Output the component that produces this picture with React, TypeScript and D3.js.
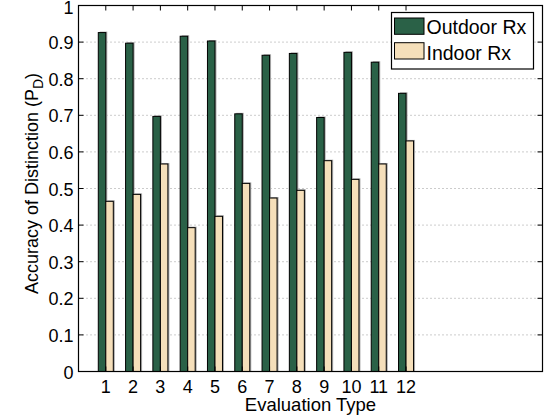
import React from "react";
import * as d3 from "d3";

const categories = [1, 2, 3, 4, 5, 6, 7, 8, 9, 10, 11, 12];
const outdoor = [0.926, 0.897, 0.697, 0.916, 0.903, 0.704, 0.864, 0.869, 0.694, 0.872, 0.845, 0.76];
const indoor = [0.465, 0.484, 0.567, 0.393, 0.424, 0.514, 0.474, 0.495, 0.576, 0.525, 0.567, 0.63];
const seriesNames = ["Outdoor Rx", "Indoor Rx"];
const yTicks = [0, 0.1, 0.2, 0.3, 0.4, 0.5, 0.6, 0.7, 0.8, 0.9, 1];

const W = 549, H = 420;
const L = 78.5, R = 542.5, T = 5.5, B = 371.5;
const colors = ["#2a6147", "#f5dfba"];
const font = "'Liberation Sans', Arial, Helvetica, sans-serif";

export default function App() {
  const x = d3.scaleLinear().domain([0, 17]).range([L, R]);
  const y = d3.scaleLinear().domain([0, 1]).range([B, T]);
  const bw = x(0.275) - x(0);
  const series = [outdoor, indoor];
  return (
    <svg width={W} height={H} style={{ position: "absolute", left: 0, top: 0, background: "#fff" }}>
      <rect x={0} y={0} width={W} height={H} fill="#fff" />
      {yTicks.filter(t => t > 0 && t < 1).map(t => (
        <line key={"g" + t} x1={L} x2={R} y1={y(t)} y2={y(t)} stroke="#999" strokeWidth={1} strokeDasharray="1,3" />
      ))}
      {series.map((vals, si) =>
        categories.map((c, i) => {
          const bx = x(c) - bw + si * bw;
          const top = y(vals[i]);
          return (
            <g key={si + "-" + i}>
              <rect x={bx + 1.5} y={top - 1} width={bw} height={B - top + 1} fill="#aaa" />
              <rect x={bx} y={top} width={bw} height={B - top} fill={colors[si]} stroke="#000" strokeWidth={1} />
            </g>
          );
        })
      )}
      <rect x={L} y={T} width={R - L} height={B - T} fill="none" stroke="#000" strokeWidth={1.2} />
      {yTicks.map(t => (
        <g key={"y" + t}>
          <line x1={L} x2={L + 5} y1={y(t)} y2={y(t)} stroke="#000" />
          <line x1={R} x2={R - 5} y1={y(t)} y2={y(t)} stroke="#000" />
          <text x={L - 5} y={y(t) + (t === 1 ? 8.5 : 7)} textAnchor="end" fontFamily={font} fontSize={18} fill="#000">
            {t === 0 ? "0" : t === 1 ? "1" : d3.format(".1f")(t)}
          </text>
        </g>
      ))}
      {categories.map(c => (
        <g key={"x" + c}>
          <line x1={x(c)} x2={x(c)} y1={B} y2={B - 5} stroke="#000" />
          <line x1={x(c)} x2={x(c)} y1={T} y2={T + 5} stroke="#000" />
          <text x={x(c)} y={B + 21} textAnchor="middle" fontFamily={font} fontSize={18} fill="#000">{c}</text>
        </g>
      ))}
      <text x={x(8.5)} y={411} textAnchor="middle" fontFamily={font} fontSize={18.5} fill="#000">Evaluation Type</text>
      <text transform={`translate(37.5,${y(0.5) - 5}) rotate(-90)`} textAnchor="middle" fontFamily={font} fontSize={18} fill="#000">
        Accuracy of Distinction (P<tspan dy={5} fontSize={14}>D</tspan><tspan dy={-5}>)</tspan>
      </text>
      <g>
        <rect x={391.5} y={12.5} width={142} height={56.5} fill="#fff" stroke="#000" strokeWidth={1.2} />
        {seriesNames.map((n, i) => (
          <g key={n}>
            <rect x={394.5} y={18 + i * 24.7} width={29.5} height={16.3} fill={colors[i]} stroke="#000" />
            <text x={426.5} y={34 + i * 26} fontFamily={font} fontSize={19.5} fill="#000">{n}</text>
          </g>
        ))}
      </g>
    </svg>
  );
}
